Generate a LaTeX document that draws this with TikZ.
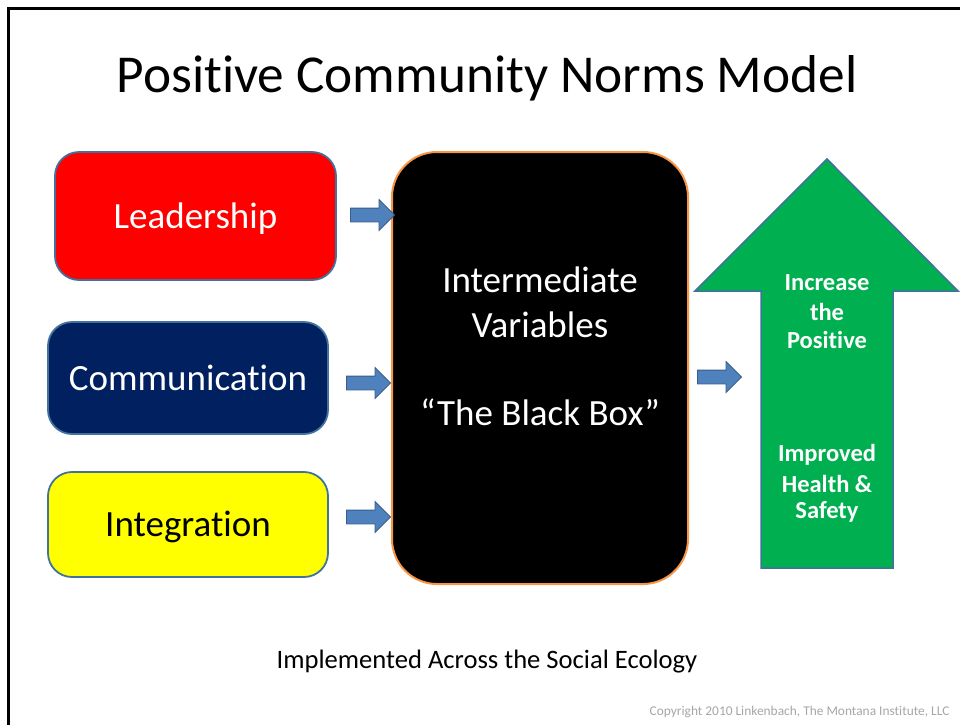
\documentclass[tikz,border=0pt]{standalone}
\usepackage{fontspec}
\setmainfont{Carlito}[Ligatures=NoCommon]
\usepackage{tikz}
\usetikzlibrary{shapes.arrows}

\definecolor{leadred}{HTML}{FF0000}
\definecolor{commnavy}{HTML}{002060}
\definecolor{integyellow}{HTML}{FFFF00}
\definecolor{boxedge}{HTML}{41719C}
\definecolor{arrowblue}{HTML}{4F81BD}
\definecolor{arrowedge}{HTML}{385D8A}
\definecolor{boxorange}{HTML}{F79646}
\definecolor{upgreen}{HTML}{00B050}
\definecolor{notegray}{HTML}{A6A6A6}

\begin{document}
\begin{tikzpicture}[x=1pt, y=-1pt,
    card/.style={draw=boxedge, line width=1.8pt, rounded corners=24pt,
        minimum width=280pt, text height=26pt, text depth=2pt,
        font=\fontsize{37}{44}\selectfont},
    blockarrow/.style={single arrow, draw=arrowedge, fill=arrowblue,
        line width=0.8pt, minimum height=44pt, minimum width=30pt,
        single arrow head extend=8.5pt, inner xsep=0pt, inner ysep=6.5pt},
    midtext/.style={text=white, text height=26pt, text depth=2pt,
        font=\fontsize{37}{44}\selectfont},
    uptext/.style={text=white, font=\fontsize{24.5}{29}\bfseries\selectfont}]

    \useasboundingbox (0,0) rectangle (960,724);
    \clip (0,0) rectangle (960,724);

    % slide frame
    \draw[line width=3pt] (8.5,8.5) rectangle (990,750);

    \node[font=\fontsize{53.3}{60}\selectfont] (title) at (487,78)
        {Positive Community Norms Model};

    % the three drivers
    \node[card, fill=leadred, text=white, minimum width=281pt,
        minimum height=128pt] (lead) at (195.5,216) {Leadership};
    \node[card, fill=commnavy, text=white,
        minimum height=112pt] (comm) at (188,378) {Communication};
    \node[card, fill=integyellow, text=black,
        minimum height=105pt] (integ) at (188,524.5) {Integration};

    % the black box
    \node[draw=boxorange, fill=black, line width=2pt, rounded corners=45pt,
        minimum width=296pt, minimum height=432pt] (bbox) at (540,368) {};
    \node[midtext] (var1) at (540,280) {Intermediate};
    \node[midtext] (var2) at (540,325) {Variables};
    \node[midtext] (var3) at (540,413) {“The Black Box”};

    % block arrows
    \node[blockarrow] (a1) at (369,215) {};
    \node[blockarrow] (a2) at (365,383) {};
    \node[blockarrow] (a3) at (365,517) {};
    \node[blockarrow] (a4) at (716,377) {};

    % outcome arrow
    \coordinate (tip) at (827,159);
    \coordinate (hl) at (695,291);
    \coordinate (hr) at (958,291);
    \coordinate (sl) at (761,568);
    \coordinate (sr) at (893,568);
    \draw[fill=upgreen, draw=boxedge, line width=1.5pt]
        (tip) -- (hr) -- (sr |- hr) -- (sr) -- (sl) -- (sl |- hl) -- (hl) -- cycle;

    \node[uptext] (up1) at (827,283) {Increase};
    \node[uptext] (up2) at (827,312) {the};
    \node[uptext] (up3) at (827,340) {Positive};
    \node[uptext] (up4) at (827,455) {Improved};
    \node[uptext] (up5) at (827,484) {Health \&};
    \node[uptext] (up6) at (827,512) {Safety};

    \node[font=\fontsize{26.6}{32}\selectfont] (ecol) at (487,662)
        {Implemented Across the Social Ecology};
    \node[anchor=east, text=notegray, font=\fontsize{13.4}{16}\selectfont]
        (copy) at (953,712)
        {Copyright 2010 Linkenbach, The Montana Institute, LLC};
\end{tikzpicture}
\end{document}
